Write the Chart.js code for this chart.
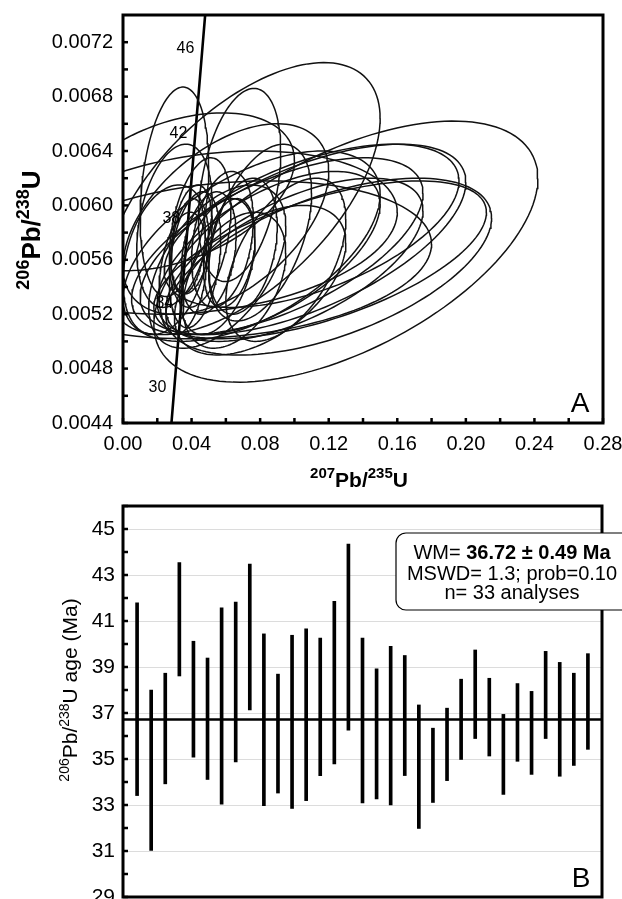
<!DOCTYPE html>
<html>
<head>
<meta charset="utf-8">
<script src="https://cdn.jsdelivr.net/npm/chart.js@4.4.0/dist/chart.umd.min.js"></script>
<style>
  html, body { margin: 0; padding: 0; background: #fff; }
  #wrap { position: relative; width: 622px; height: 899px; overflow: hidden; }
  #chartA { position: absolute; left: 0; top: 0; }
  #chartB { position: absolute; left: 0; top: 490px; }
</style>
</head>
<body>
<div id="wrap">
  <canvas id="chartA" width="622" height="490"></canvas>
  <canvas id="chartB" width="622" height="409"></canvas>
</div>
<script>
var FONT = '"Liberation Sans", Arial, Helvetica, sans-serif';

// ---- panel A: concordia diagram ----
var concordiaX = [0.02826, 0.02999, 0.03405, 0.03813, 0.04223, 0.04635, 0.04810];
var concordiaY = [0.004400, 0.004665, 0.005288, 0.005912, 0.006537, 0.007161, 0.007427];
var concordiaLabels = ['', '30', '34', '38', '42', '46', ''];

// error ellipses: centre, x error, y error, error correlation
var ellCx = [0.030, 0.068, 0.070, 0.130, 0.120, 0.115, 0.110, 0.060, 0.050, 0.030, 0.040,
             0.042, 0.038, 0.045, 0.050, 0.058, 0.062, 0.035, 0.055, 0.070, 0.080, 0.095,
             0.030, 0.025, 0.055, 0.085, 0.075, 0.100, 0.090, 0.060, 0.105, 0.080, 0.065];
var ellSx = [0.020, 0.024, 0.080, 0.112, 0.095, 0.097, 0.086, 0.120, 0.110, 0.070, 0.012,
             0.015, 0.010, 0.018, 0.016, 0.018, 0.015, 0.014, 0.022, 0.020, 0.030, 0.035,
             0.022, 0.025, 0.040, 0.065, 0.075, 0.075, 0.085, 0.060, 0.095, 0.050, 0.030];
var ellCy = [0.00610, 0.00615, 0.00605, 0.00566, 0.00555, 0.00560, 0.00585, 0.00560, 0.00580, 0.00610, 0.00575,
             0.00560, 0.00570, 0.00580, 0.00565, 0.00575, 0.00565, 0.00550, 0.00555, 0.00570, 0.00580, 0.00560,
             0.00585, 0.00560, 0.00555, 0.00565, 0.00570, 0.00560, 0.00570, 0.00590, 0.00575, 0.00545, 0.00545];
var ellSy = [0.00077, 0.00071, 0.00100, 0.00096, 0.00065, 0.00058, 0.00060, 0.00058, 0.00060, 0.00058, 0.00040,
             0.00050, 0.00035, 0.00055, 0.00045, 0.00050, 0.00040, 0.00045, 0.00050, 0.00050, 0.00065, 0.00060,
             0.00060, 0.00055, 0.00060, 0.00060, 0.00070, 0.00060, 0.00065, 0.00070, 0.00070, 0.00055, 0.00050];
var ellRho = [0.25, 0.35, 0.59, 0.56, 0.55, 0.60, 0.55, 0.20, 0.25, 0.40, 0.30,
              0.30, 0.30, 0.35, 0.30, 0.30, 0.30, 0.30, 0.40, 0.30, 0.45, 0.50,
              0.30, 0.30, 0.50, 0.60, 0.55, 0.60, 0.60, 0.50, 0.60, 0.50, 0.40];

var xTicksA = [0, 0.04, 0.08, 0.12, 0.16, 0.20, 0.24, 0.28];
var xMinorA = [0.02, 0.06, 0.10, 0.14, 0.18, 0.22, 0.26];
var yTicksA = [0.0044, 0.0048, 0.0052, 0.0056, 0.0060, 0.0064, 0.0068, 0.0072];
var yMinorA = [0.0046, 0.0050, 0.0054, 0.0058, 0.0062, 0.0066, 0.0070];

// ---- panel B: 206Pb/238U ages ----
var ageLow  = [33.41, 31.03, 33.92, 38.61, 35.08, 34.11, 33.04, 34.87, 37.13, 32.97, 33.52,
               32.85, 33.19, 34.28, 34.79, 36.25, 33.09, 33.26, 33.00, 34.28, 31.98, 33.11,
               34.06, 34.98, 35.89, 35.13, 33.46, 34.90, 34.33, 35.89, 34.25, 34.72, 35.42];
var ageHigh = [41.79, 38.00, 38.73, 43.54, 40.12, 39.39, 41.57, 41.82, 43.47, 40.44, 38.69,
               40.38, 40.66, 40.26, 41.86, 44.34, 40.26, 38.92, 39.90, 39.50, 37.35, 36.34,
               37.21, 38.47, 39.74, 38.51, 36.94, 38.28, 37.94, 39.68, 39.20, 38.73, 39.58];
var wmAge = 36.72;
var yTicksB = [29, 31, 33, 35, 37, 39, 41, 43, 45];
var yMinorB = [30, 32, 34, 36, 38, 40, 42, 44, 46];
var boxLine1 = 'WM= ';
var boxLine1Bold = '36.72 \u00b1 0.49 Ma';
var boxLine2 = 'MSWD= 1.3; prob=0.10';
var boxLine3 = 'n= 33 analyses';

function ellipsePoints(i) {
  var pts = [];
  var n = 140;
  var c = Math.sqrt(1 - ellRho[i] * ellRho[i]);
  for (var k = 0; k <= n; k++) {
    var t = 2 * Math.PI * k / n;
    pts.push({
      x: ellCx[i] + ellSx[i] * Math.cos(t),
      y: ellCy[i] + ellSy[i] * (ellRho[i] * Math.cos(t) + c * Math.sin(t))
    });
  }
  return pts;
}

function drawParts(ctx, parts, x, y, size, supSize, weight, rise) {
  var widths = [];
  var total = 0;
  parts.forEach(function (p) {
    ctx.font = weight + ' ' + (p.sup ? supSize : size) + 'px ' + FONT;
    var w = ctx.measureText(p.t).width;
    widths.push(w);
    total += w;
  });
  var cx = x - total / 2;
  ctx.textAlign = 'left';
  ctx.textBaseline = 'alphabetic';
  parts.forEach(function (p, i) {
    ctx.font = weight + ' ' + (p.sup ? supSize : size) + 'px ' + FONT;
    ctx.fillText(p.t, cx, p.sup ? y - rise : y);
    cx += widths[i];
  });
}

// frame and inward tick marks
var frameTicks = {
  id: 'frameTicks',
  afterDatasetsDraw: function (chart, args, opts) {
    var a = chart.chartArea;
    var ctx = chart.ctx;
    var xs = chart.scales.x;
    var ys = chart.scales.y;
    ctx.save();
    ctx.strokeStyle = '#000';
    ctx.lineWidth = 2.5;
    (opts.yTicks || []).forEach(function (v) {
      var p = ys.getPixelForValue(v);
      ctx.beginPath();
      ctx.moveTo(a.left, p);
      ctx.lineTo(a.left + 5, p);
      ctx.stroke();
    });
    (opts.xTicks || []).forEach(function (v) {
      var p = xs.getPixelForValue(v);
      ctx.beginPath();
      ctx.moveTo(p, a.bottom);
      ctx.lineTo(p, a.bottom - 5);
      ctx.stroke();
    });
    ctx.lineWidth = 3;
    ctx.strokeRect(a.left, a.top, a.right - a.left, a.bottom - a.top);
    ctx.restore();
  }
};

var panelALabels = {
  id: 'panelALabels',
  afterDraw: function (chart) {
    var ctx = chart.ctx;
    var xs = chart.scales.x;
    var ys = chart.scales.y;
    var a = chart.chartArea;
    ctx.save();
    ctx.fillStyle = '#000';
    // age labels on concordia
    ctx.font = '16px ' + FONT;
    ctx.textAlign = 'center';
    ctx.textBaseline = 'middle';
    concordiaLabels.forEach(function (lab, i) {
      if (!lab) return;
      ctx.fillText(lab, xs.getPixelForValue(concordiaX[i]) - 17, ys.getPixelForValue(concordiaY[i]) + 1);
    });
    // panel letter
    ctx.font = '28px ' + FONT;
    ctx.textBaseline = 'alphabetic';
    ctx.fillText('A', a.right - 23, a.bottom - 11);
    // x title
    drawParts(ctx, [{ t: '207', sup: true }, { t: 'Pb/', sup: false }, { t: '235', sup: true }, { t: 'U', sup: false }],
      (a.left + a.right) / 2 - 4, 487, 21, 15, 'bold', 9);
    // y title
    ctx.translate(40, 230);
    ctx.rotate(-Math.PI / 2);
    drawParts(ctx, [{ t: '206', sup: true }, { t: 'Pb/', sup: false }, { t: '238', sup: true }, { t: 'U', sup: false }],
      0, 0, 26, 18, 'bold', 11);
    ctx.restore();
  }
};

var ellipseSets = ellCx.map(function (c, i) {
  return {
    data: ellipsePoints(i),
    showLine: true,
    borderColor: '#111',
    borderWidth: 1.5,
    pointRadius: 0,
    fill: false,
    tension: 0
  };
});

var concordiaSet = {
  data: concordiaX.map(function (x, i) { return { x: x, y: concordiaY[i] }; }),
  showLine: true,
  borderColor: '#000',
  borderWidth: 2.6,
  pointRadius: 0,
  fill: false,
  tension: 0
};

new Chart(document.getElementById('chartA').getContext('2d'), {
  type: 'scatter',
  data: { datasets: ellipseSets.concat([concordiaSet]) },
  options: {
    responsive: false,
    animation: false,
    events: [],
    layout: { padding: { left: 0, top: 15, right: 19, bottom: 0 } },
    plugins: {
      legend: { display: false },
      tooltip: { enabled: false },
      frameTicks: { xTicks: xTicksA.concat(xMinorA), yTicks: yTicksA.concat(yMinorA) }
    },
    scales: {
      x: {
        type: 'linear',
        min: 0,
        max: 0.28,
        grid: { display: false, drawTicks: false },
        border: { display: false },
        afterBuildTicks: function (s) { s.ticks = xTicksA.map(function (v) { return { value: v }; }); },
        afterFit: function (s) { s.height = 67; s.paddingLeft = 0; s.paddingRight = 0; },
        ticks: {
          padding: 9,
          color: '#000',
          font: { family: FONT, size: 20 },
          maxRotation: 0,
          callback: function (v) { return Number(v).toFixed(2); }
        }
      },
      y: {
        type: 'linear',
        min: 0.0044,
        max: 0.0074,
        grid: { display: false, drawTicks: false },
        border: { display: false },
        afterBuildTicks: function (s) { s.ticks = yTicksA.map(function (v) { return { value: v }; }); },
        afterFit: function (s) { s.width = 123; s.paddingTop = 0; s.paddingBottom = 0; },
        ticks: {
          padding: 10,
          color: '#000',
          font: { family: FONT, size: 20 },
          callback: function (v) { return Number(v).toFixed(4); }
        }
      }
    }
  },
  plugins: [frameTicks, panelALabels]
});

// ---- panel B ----
var panelBLabels = {
  id: 'panelBLabels',
  afterDraw: function (chart) {
    var ctx = chart.ctx;
    var a = chart.chartArea;
    ctx.save();
    ctx.fillStyle = '#000';
    ctx.font = '28px ' + FONT;
    ctx.textAlign = 'center';
    ctx.textBaseline = 'alphabetic';
    ctx.fillText('B', a.right - 21, a.bottom - 10);

    // result box
    var bx = 396, by = 43, bw = 240, bh = 77, r = 10;
    ctx.beginPath();
    ctx.moveTo(bx + r, by);
    ctx.lineTo(bx + bw - r, by);
    ctx.arcTo(bx + bw, by, bx + bw, by + r, r);
    ctx.lineTo(bx + bw, by + bh - r);
    ctx.arcTo(bx + bw, by + bh, bx + bw - r, by + bh, r);
    ctx.lineTo(bx + r, by + bh);
    ctx.arcTo(bx, by + bh, bx, by + bh - r, r);
    ctx.lineTo(bx, by + r);
    ctx.arcTo(bx, by, bx + r, by, r);
    ctx.closePath();
    ctx.fillStyle = '#fff';
    ctx.fill();
    ctx.strokeStyle = '#000';
    ctx.lineWidth = 1.2;
    ctx.stroke();

    ctx.fillStyle = '#000';
    var cx = 512;
    ctx.font = '20px ' + FONT;
    var w1 = ctx.measureText(boxLine1).width;
    ctx.font = 'bold 20px ' + FONT;
    var w2 = ctx.measureText(boxLine1Bold).width;
    ctx.textAlign = 'left';
    ctx.font = '20px ' + FONT;
    ctx.fillText(boxLine1, cx - (w1 + w2) / 2, 69);
    ctx.font = 'bold 20px ' + FONT;
    ctx.fillText(boxLine1Bold, cx - (w1 + w2) / 2 + w1, 69);
    ctx.textAlign = 'center';
    ctx.font = '20px ' + FONT;
    ctx.fillText(boxLine2, cx, 90);
    ctx.fillText(boxLine3, cx, 109);

    // y title
    ctx.translate(77, 200);
    ctx.rotate(-Math.PI / 2);
    drawParts(ctx, [{ t: '206', sup: true }, { t: 'Pb/', sup: false }, { t: '238', sup: true }, { t: 'U age (Ma)', sup: false }],
      0, 0, 21, 14, 'normal', 8);
    ctx.restore();
  }
};

new Chart(document.getElementById('chartB').getContext('2d'), {
  type: 'bar',
  data: {
    datasets: [
      {
        type: 'line',
        data: [{ x: 0, y: wmAge }, { x: 34, y: wmAge }],
        borderColor: '#000',
        borderWidth: 2.5,
        pointRadius: 0,
        fill: false,
        order: 0
      },
      {
        type: 'bar',
        data: ageLow.map(function (lo, i) { return { x: i + 1, y: [lo, ageHigh[i]] }; }),
        backgroundColor: '#000',
        borderWidth: 0,
        barThickness: 3,
        order: 1
      }
    ]
  },
  options: {
    responsive: false,
    animation: false,
    events: [],
    layout: { padding: { left: 0, top: 16, right: 20, bottom: 2 } },
    plugins: {
      legend: { display: false },
      tooltip: { enabled: false },
      frameTicks: { yTicks: yTicksB.concat(yMinorB) }
    },
    scales: {
      x: {
        type: 'linear',
        min: 0,
        max: 34,
        display: false,
        offset: false
      },
      y: {
        type: 'linear',
        min: 29,
        max: 46,
        border: { display: false },
        grid: { color: '#dcdcdc', lineWidth: 1, drawTicks: false },
        afterBuildTicks: function (s) { s.ticks = yTicksB.map(function (v) { return { value: v }; }); },
        afterFit: function (s) { s.width = 123; s.paddingTop = 0; s.paddingBottom = 0; },
        ticks: {
          padding: 8,
          color: '#000',
          font: { family: FONT, size: 21 }
        }
      }
    }
  },
  plugins: [frameTicks, panelBLabels]
});
</script>
</body>
</html>
